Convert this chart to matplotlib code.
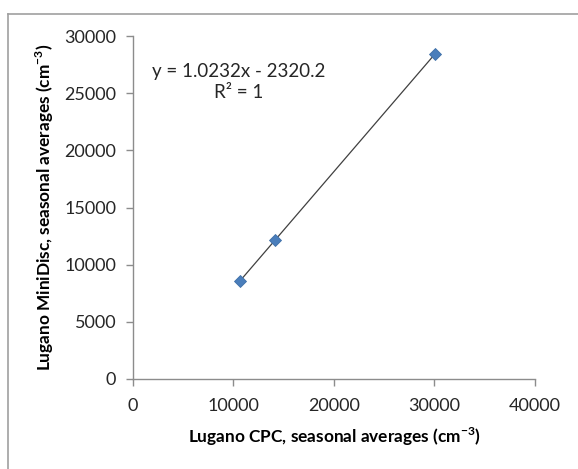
import numpy as np
import matplotlib
matplotlib.use("Agg")
import matplotlib.pyplot as plt
from matplotlib.lines import Line2D

# seasonal averages (cm-3)
cpc = [10620, 14150, 30040]
minidisc = [8546, 12158, 28417]

x_ticks = [0, 10000, 20000, 30000, 40000]
y_ticks = [0, 5000, 10000, 15000, 20000, 25000, 30000]

plt.rcParams["font.family"] = ["Lato", "DejaVu Sans"]
plt.rcParams["mathtext.fontset"] = "custom"
plt.rcParams["mathtext.rm"] = "Lato"
plt.rcParams["mathtext.bf"] = "Lato:bold"

AX_GRAY = "#8c8c8c"
TXT = "#262626"


def main():
    fig = plt.figure(figsize=(5.78, 4.69), dpi=100)
    ax = fig.add_axes([0.230, 0.1919, 0.6955, 0.7313])

    slope, intercept = np.polyfit(cpc, minidisc, 1)
    xs = np.array([min(cpc), max(cpc)])
    ax.plot(xs, slope * xs + intercept, color="#404040", linewidth=0.9, zorder=2)
    ax.plot(cpc, minidisc, linestyle="none", marker="D", markersize=5.8,
            color="#4a7ebb", markeredgecolor="#3f6fa8", markeredgewidth=0.6, zorder=3)

    ax.set_xlim(0, 40000)
    ax.set_ylim(0, 30000)
    ax.set_xticks(x_ticks)
    ax.set_yticks(y_ticks)

    for side in ("top", "right"):
        ax.spines[side].set_visible(False)
    for side in ("left", "bottom"):
        ax.spines[side].set_color(AX_GRAY)
        ax.spines[side].set_linewidth(1.0)
    ax.tick_params(direction="out", length=5, width=1.0, color=AX_GRAY,
                   labelsize=13, labelcolor=TXT)
    ax.tick_params(axis="x", pad=9)
    ax.tick_params(axis="y", pad=7)

    ax.set_xlabel(r"Lugano CPC, seasonal averages (cm$^{\mathbf{-3}}$)",
                  fontsize=12.4, fontweight="bold", color="black", labelpad=8)
    ax.set_ylabel(r"Lugano MiniDisc, seasonal averages (cm$^{\mathbf{-3}}$)",
                  fontsize=12.4, fontweight="bold", color="black", labelpad=6)

    ax.text(0.262, 0.866, "y = 1.0232x - 2320.2\nR\u00b2 = 1", transform=ax.transAxes,
            ha="center", va="center", multialignment="center",
            fontsize=13.5, color=TXT, linespacing=1.3)

    # chart frame (only top and left edges fall within the picture)
    fig.add_artist(Line2D([8 / 578, 1.0], [1 - 14 / 469] * 2, transform=fig.transFigure,
                          color="#a0a0a0", linewidth=1.2))
    fig.add_artist(Line2D([8 / 578] * 2, [0.0, 1 - 14 / 469], transform=fig.transFigure,
                          color="#a0a0a0", linewidth=1.2))

    fig.savefig("out.png", dpi=100)
    plt.close(fig)


if __name__ == "__main__":
    main()
